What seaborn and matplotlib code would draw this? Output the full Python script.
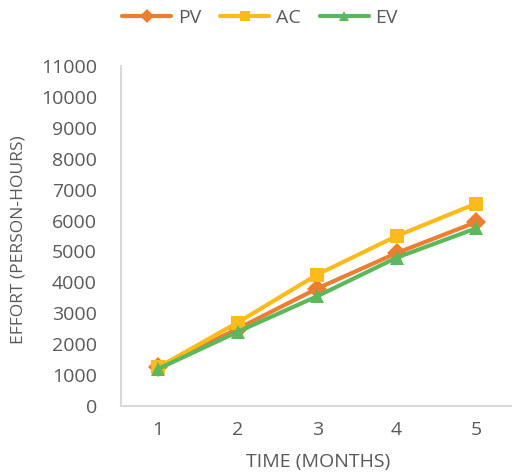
import matplotlib
matplotlib.use("Agg")
import matplotlib.pyplot as plt
import seaborn as sns
import pandas as pd
from matplotlib.lines import Line2D

months = [1, 2, 3, 4, 5]
pv = [1250, 2500, 3800, 4950, 5950]
ac = [1250, 2700, 4250, 5500, 6550]
ev = [1200, 2400, 3550, 4800, 5750]
series_names = ["PV", "AC", "EV"]
colors = {"PV": "#ED7D31", "AC": "#FDBB1B", "EV": "#5CB85C"}
markers = {"PV": "D", "AC": "s", "EV": "^"}

df = pd.DataFrame({
    "Month": months * 3,
    "Effort": pv + ac + ev,
    "Series": ["PV"] * 5 + ["AC"] * 5 + ["EV"] * 5,
})

sns.set_style("white")
plt.rcParams['font.family'] = ['Open Sans', 'DejaVu Sans']

fig = plt.figure(figsize=(5.12, 4.73), dpi=100)
ax = fig.add_axes([0.2354, 0.1416, 0.7646, 0.7189])

sns.lineplot(data=df, x="Month", y="Effort", hue="Series", style="Series",
             hue_order=series_names, style_order=series_names,
             palette=colors, markers=markers, dashes=False,
             linewidth=3, markersize=10.5, markeredgewidth=0, ax=ax, legend=False)

ax.set_xlim(0.528, 5.45)
ax.set_ylim(0, 11000)
ax.set_yticks(range(0, 11001, 1000))
ax.set_xticks(months)
ax.set_xticklabels([str(m) for m in months])
ax.tick_params(axis='both', length=0, labelsize=14, colors="#595959")
ax.tick_params(axis='y', pad=17)
ax.tick_params(axis='x', pad=11)
for s in ["top", "right"]:
    ax.spines[s].set_visible(False)
for s in ["left", "bottom"]:
    ax.spines[s].set_color("#D9D9D9")
    ax.spines[s].set_linewidth(1.5)

ax.set_xlabel("TIME (MONTHS)", fontsize=14, color="#595959")
ax.xaxis.label.set_va("center")
ax.xaxis.set_label_coords(0.505, -0.165)
ax.set_ylabel("EFFORT (PERSON-HOURS)", fontsize=12.5, color="#595959")
ax.yaxis.label.set_va("center")
ax.yaxis.set_label_coords(-0.26, 0.488)

handles = [Line2D([0], [0], color=colors[n], marker=markers[n], lw=3, markersize=7, markeredgewidth=0)
           for n in series_names]
fig.legend(handles, series_names, loc="center", bbox_to_anchor=(0.508, 0.963), ncol=3,
           frameon=False, fontsize=14, labelcolor="#595959", handlelength=2.5,
           columnspacing=1.0, handletextpad=0.35)

fig.savefig("out.png", dpi=100)
